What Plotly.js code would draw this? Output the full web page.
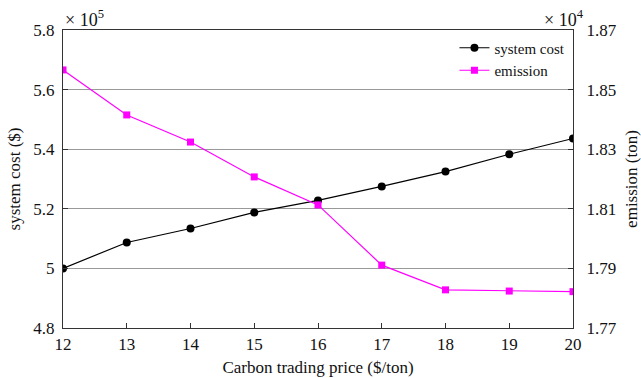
<!DOCTYPE html>
<html><head><meta charset="utf-8">
<script src="https://cdn.plot.ly/plotly-3.0.1.min.js"></script>
<style>html,body{margin:0;padding:0;background:#fff}</style>
</head><body><div id="chart" style="width:641px;height:378px"></div>
<script>
const prices = [12, 13, 14, 15, 16, 17, 18, 19, 20];
const systemCost = [5.0, 5.087, 5.134, 5.188, 5.228, 5.275, 5.325, 5.383, 5.436];
const emission = [1.8566, 1.8415, 1.8324, 1.8207, 1.8113, 1.7911, 1.7828, 1.7824, 1.7822];
const leftTicks = [4.8, 5, 5.2, 5.4, 5.6, 5.8];
const leftTickText = ['4.8', '5', '5.2', '5.4', '5.6', '5.8'];
const rightTicks = [1.77, 1.79, 1.81, 1.83, 1.85, 1.87];

const fam = 'Liberation Serif, Times New Roman, serif';
const font = {family: fam, color: '#111', size: 17};
const titleFont = {family: fam, color: '#111', size: 17};
const traces = [
  {x: prices, y: systemCost, name: 'system cost', mode: 'lines+markers', yaxis: 'y',
   line: {color: '#000', width: 1.2}, marker: {symbol: 'circle', size: 8, color: '#000'}},
  {x: prices, y: emission, name: 'emission', mode: 'lines+markers', yaxis: 'y2',
   line: {color: '#ff00ff', width: 1.2}, marker: {symbol: 'square', size: 7, color: '#ff00ff'}}
];
const layout = {
  width: 641, height: 378,
  margin: {l: 63, r: 68, t: 30, b: 50},
  paper_bgcolor: '#fff', plot_bgcolor: '#fff',
  font: font,
  showlegend: true,
  legend: {x: 0.995, xanchor: 'right', y: 0.995, yanchor: 'top', bgcolor: 'rgba(0,0,0,0)',
           font: {family: fam, size: 15, color: '#111'}, tracegroupgap: 0, itemwidth: 30,
           entrywidth: 0},
  xaxis: {range: [12, 20], tickvals: prices, ticks: 'inside', ticklen: 5, tickcolor: '#333',
          showgrid: false, zeroline: false, showline: true, linecolor: '#333', linewidth: 1.2,
          mirror: true, tickfont: font,
          title: {text: 'Carbon trading price ($/ton)', font: titleFont, standoff: 8}},
  yaxis: {range: [4.8, 5.8], tickvals: leftTicks, ticktext: leftTickText, ticks: 'inside', ticklen: 5,
          tickcolor: '#333', showgrid: true, gridcolor: '#999', gridwidth: 1, zeroline: false,
          showline: true, linecolor: '#333', linewidth: 1.2, tickfont: font, ticklabelstandoff: 4,
          title: {text: 'system cost ($)', font: titleFont, standoff: 8}},
  yaxis2: {range: [1.77, 1.87], tickvals: rightTicks, ticks: 'inside', ticklen: 5, tickcolor: '#333',
           overlaying: 'y', side: 'right', showgrid: false, zeroline: false, showline: true,
           linecolor: '#333', linewidth: 1.2, tickfont: font, ticklabelstandoff: 9,
           title: {text: 'emission (ton)', font: titleFont, standoff: 10}},
  annotations: [
    {text: '× 10<sup>5</sup>', xref: 'paper', yref: 'paper', x: 0, y: 1, xanchor: 'left', yanchor: 'bottom',
     showarrow: false, font: {family: fam, size: 18, color: '#111'}, yshift: -2},
    {text: '× 10<sup>4</sup>', xref: 'paper', yref: 'paper', x: 1.025, y: 1, xanchor: 'right', yanchor: 'bottom',
     showarrow: false, font: {family: fam, size: 18, color: '#111'}, yshift: -2}
  ]
};
Plotly.newPlot('chart', traces, layout, {displayModeBar: false, staticPlot: true});
</script></body></html>
